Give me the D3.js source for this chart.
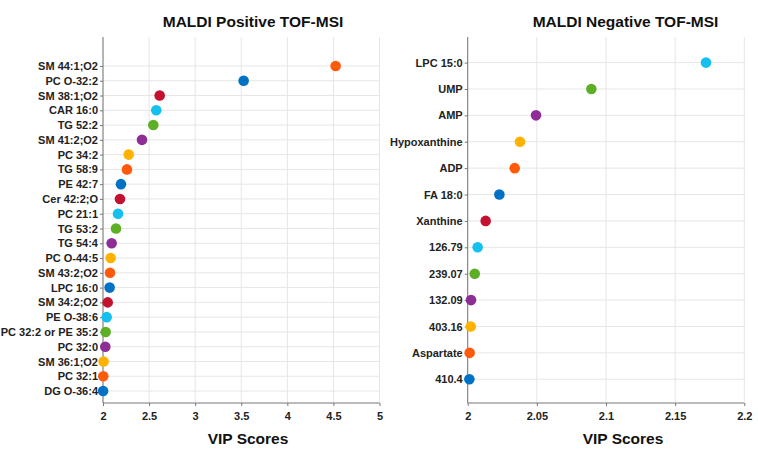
<!DOCTYPE html>
<html>
<head>
<meta charset="utf-8">
<script src="https://cdn.jsdelivr.net/npm/d3@7"></script>
<style>
  html, body { margin: 0; padding: 0; background: #fff; }
  svg { display: block; font-family: "Liberation Sans", Arial, sans-serif; }
</style>
</head>
<body>
<svg id="chart" width="758" height="456"></svg>
<script>
// ---- data ----
const posLabels = ["SM 44:1;O2","PC O-32:2","SM 38:1;O2","CAR 16:0","TG 52:2","SM 41:2;O2","PC 34:2","TG 58:9","PE 42:7","Cer 42:2;O","PC 21:1","TG 53:2","TG 54:4","PC O-44:5","SM 43:2;O2","LPC 16:0","SM 34:2;O2","PE O-38:6","PC 32:2 or PE 35:2","PC 32:0","SM 36:1;O2","PC 32:1","DG O-36:4"];
const posValues = [4.524, 3.526, 2.615, 2.578, 2.546, 2.423, 2.279, 2.260, 2.195, 2.184, 2.163, 2.141, 2.094, 2.083, 2.076, 2.072, 2.051, 2.040, 2.029, 2.025, 2.006, 2.003, 2.001];
const posTicks = [2, 2.5, 3, 3.5, 4, 4.5, 5];
const posTickLabels = ["2","2.5","3","3.5","4","4.5","5"];

const negLabels = ["LPC 15:0","UMP","AMP","Hypoxanthine","ADP","FA 18:0","Xanthine","126.79","239.07","132.09","403.16","Aspartate","410.4"];
const negValues = [2.1723, 2.0894, 2.0494, 2.0378, 2.0340, 2.0229, 2.0130, 2.0072, 2.0051, 2.0024, 2.0022, 2.0014, 2.0012];
const negTicks = [2, 2.05, 2.1, 2.15, 2.2];
const negTickLabels = ["2","2.05","2.1","2.15","2.2"];

const titles = ["MALDI Positive TOF-MSI", "MALDI Negative TOF-MSI"];
const xLabel = "VIP Scores";

// colour cycle (from the bottom category upward)
const palette = ["#0072C6","#FF5A0A","#FFB300","#8E2D96","#5DB025","#14C0F0","#C4112F"];

const svg = d3.select("#chart");

function panel(cfg) {
  const n = cfg.labels.length;
  // category index: bottom item = 1
  const pts = cfg.labels.map((l, i) => ({label: l, value: cfg.values[i], idx: n - i}));
  const x = d3.scaleLinear().domain([cfg.ticks[0], cfg.ticks[cfg.ticks.length - 1]]).range([cfg.x0, cfg.x1]);
  const y = d3.scaleLinear().domain(cfg.ydom).range([cfg.yb, cfg.yt]);
  const g = svg.append("g");

  // grid
  g.append("g").selectAll("line.vg").data(cfg.ticks).join("line")
    .attr("x1", d => x(d)).attr("x2", d => x(d))
    .attr("y1", cfg.yt).attr("y2", cfg.yb)
    .attr("stroke", "#e6e6e6").attr("stroke-width", 1);
  g.append("g").selectAll("line.hg").data(pts).join("line")
    .attr("x1", cfg.x0).attr("x2", cfg.x1)
    .attr("y1", d => y(d.idx)).attr("y2", d => y(d.idx))
    .attr("stroke", "#e6e6e6").attr("stroke-width", 1);

  // x axis
  const xa = d3.axisBottom(x).tickValues(cfg.ticks)
    .tickFormat((d, i) => cfg.tickLabels[i]).tickSize(3).tickPadding(6);
  const xg = g.append("g").attr("transform", `translate(0,${cfg.yb})`).call(xa);
  xg.select(".domain").attr("stroke", "#777").attr("d", `M${cfg.x0},0H${cfg.x1}`);
  xg.selectAll(".tick line").attr("stroke", "#777");
  xg.selectAll("text").attr("font-size", 11).attr("font-weight", "bold").attr("fill", "#222");

  // y axis
  const ya = d3.axisLeft(y).tickValues(pts.map(p => p.idx))
    .tickFormat(v => pts.find(p => p.idx === v).label).tickSize(3).tickPadding(2);
  const yg = g.append("g").attr("transform", `translate(${cfg.x0},0)`).call(ya);
  yg.select(".domain").attr("stroke", "#777").attr("d", `M0,${cfg.yt}V${cfg.yb}`);
  yg.selectAll(".tick line").attr("stroke", "#777");
  yg.selectAll("text").attr("font-size", 11).attr("font-weight", "bold").attr("fill", "#222");

  // dots
  g.append("g").selectAll("circle").data(pts).join("circle")
    .attr("cx", d => x(d.value)).attr("cy", d => y(d.idx)).attr("r", 5.3)
    .attr("fill", d => palette[(d.idx - 1) % palette.length]);

  // title and x label
  g.append("text").attr("x", cfg.titleX).attr("y", 27).attr("text-anchor", "middle")
    .attr("font-size", 15.5).attr("font-weight", "bold").attr("fill", "#111").text(cfg.title);
  g.append("text").attr("x", cfg.labelX).attr("y", 444).attr("text-anchor", "middle")
    .attr("font-size", 15.5).attr("font-weight", "bold").attr("fill", "#111").text(xLabel);
}

panel({labels: posLabels, values: posValues, ticks: posTicks, tickLabels: posTickLabels,
  x0: 103, x1: 379.5, yt: 37, yb: 403, ydom: [0.19, 24.96],
  title: titles[0], titleX: 253, labelX: 248});
panel({labels: negLabels, values: negValues, ticks: negTicks, tickLabels: negTickLabels,
  x0: 467.7, x1: 744.3, yt: 37, yb: 403, ydom: [0.1, 13.97],
  title: titles[1], titleX: 625.5, labelX: 623});
</script>
</body>
</html>
